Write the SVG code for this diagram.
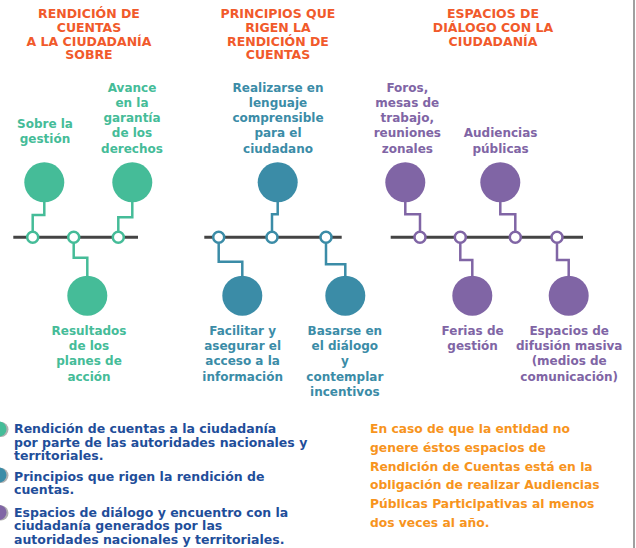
<svg xmlns="http://www.w3.org/2000/svg" width="636" height="548" viewBox="0 0 636 548">
<style>
text{font-family:"DejaVu Sans","Liberation Sans",sans-serif;font-weight:bold;}
.t{font-size:12.5px;fill:#F15A2B;text-anchor:middle;}
.l{font-size:12px;text-anchor:middle;}
.g{fill:#45BC98;}
.b{fill:#3B8CA7;}
.p{fill:#8065A5;}
.ln{fill:none;stroke-width:2.5;}
.gs{stroke:#45BC98;}
.bs{stroke:#3B8CA7;}
.ps{stroke:#8065A5;}
.dot{fill:#fff;stroke-width:2.5;}
.axis{stroke:#444;stroke-width:3;}
.leg{font-size:12.5px;fill:#1F4E9A;}
.note{font-size:12.3px;fill:#F7941D;}
</style>
<rect width="636" height="548" fill="#fff"/>
<line x1="634" y1="0" x2="634" y2="548" stroke="#A0A0A0" stroke-width="2"/>

<g id="titles">
<text class="t" x="89" y="18.3">RENDICIÓN DE</text>
<text class="t" x="89" y="31.8">CUENTAS</text>
<text class="t" x="89" y="45.5">A LA CIUDADANÍA</text>
<text class="t" x="89" y="59.2">SOBRE</text>
<text class="t" x="278" y="18.3">PRINCIPIOS QUE</text>
<text class="t" x="278" y="31.8">RIGEN LA</text>
<text class="t" x="278" y="45.5">RENDICIÓN DE</text>
<text class="t" x="278" y="59.2">CUENTAS</text>
<text class="t" x="493" y="18.3">ESPACIOS DE</text>
<text class="t" x="493" y="31.8">DIÁLOGO CON LA</text>
<text class="t" x="493" y="45.5">CIUDADANÍA</text>
</g>

<g id="axes">
<line class="axis" x1="13.3" y1="237.3" x2="138" y2="237.3"/>
<line class="axis" x1="204.3" y1="237.3" x2="341.7" y2="237.3"/>
<line class="axis" x1="390.7" y1="237.3" x2="583" y2="237.3"/>
</g>

<g id="connectors">
<polyline class="ln gs" points="44.3,202 44.3,215 32.7,215 32.7,237"/>
<polyline class="ln gs" points="132.3,202 132.3,217.3 118.3,217.3 118.3,237"/>
<polyline class="ln gs" points="73.7,237 73.7,257.7 87.3,257.7 87.3,276"/>
<polyline class="ln bs" points="277.7,202 277.7,214.3 272,214.3 272,237"/>
<polyline class="ln bs" points="218.7,237 218.7,261.7 242.3,261.7 242.3,276"/>
<polyline class="ln bs" points="326,237 326,264.3 345.3,264.3 345.3,276"/>
<polyline class="ln ps" points="405.3,202 405.3,214.3 420,214.3 420,237"/>
<polyline class="ln ps" points="500.3,202 500.3,214.3 515.3,214.3 515.3,237"/>
<polyline class="ln ps" points="460.3,237 460.3,260 472.3,260 472.3,276"/>
<polyline class="ln ps" points="557,237 557,260 568.7,260 568.7,276"/>
<circle class="dot gs" cx="32.7" cy="237.3" r="5.5"/>
<circle class="dot gs" cx="73.7" cy="237.3" r="5.5"/>
<circle class="dot gs" cx="118.3" cy="237.3" r="5.5"/>
<circle class="dot bs" cx="218.7" cy="237.3" r="5.5"/>
<circle class="dot bs" cx="272" cy="237.3" r="5.5"/>
<circle class="dot bs" cx="326" cy="237.3" r="5.5"/>
<circle class="dot ps" cx="420" cy="237.3" r="5.5"/>
<circle class="dot ps" cx="460.3" cy="237.3" r="5.5"/>
<circle class="dot ps" cx="515.3" cy="237.3" r="5.5"/>
<circle class="dot ps" cx="557" cy="237.3" r="5.5"/>
</g>

<g id="n-gestion">
<circle class="g" cx="44.3" cy="182.3" r="20"/>
<text class="l g" x="45" y="128.3">Sobre la</text>
<text class="l g" x="45" y="142.7">gestión</text>
</g>
<g id="n-derechos">
<circle class="g" cx="132.3" cy="182.3" r="20"/>
<text class="l g" x="132" y="91.8">Avance</text>
<text class="l g" x="132" y="107">en la</text>
<text class="l g" x="132" y="122.2">garantía</text>
<text class="l g" x="132" y="137.4">de los</text>
<text class="l g" x="132" y="152.6">derechos</text>
</g>
<g id="n-resultados">
<circle class="g" cx="87.3" cy="295.7" r="20"/>
<text class="l g" x="89" y="335">Resultados</text>
<text class="l g" x="89" y="350.2">de los</text>
<text class="l g" x="89" y="365.4">planes de</text>
<text class="l g" x="89" y="380.6">acción</text>
</g>

<g id="n-lenguaje">
<circle class="b" cx="277.7" cy="182.3" r="20"/>
<text class="l b" x="278" y="91.8">Realizarse en</text>
<text class="l b" x="278" y="107">lenguaje</text>
<text class="l b" x="278" y="122.2">comprensible</text>
<text class="l b" x="278" y="137.4">para el</text>
<text class="l b" x="278" y="152.6">ciudadano</text>
</g>
<g id="n-acceso">
<circle class="b" cx="242.3" cy="295.7" r="20"/>
<text class="l b" x="242.6" y="335">Facilitar y</text>
<text class="l b" x="242.6" y="350.2">asegurar el</text>
<text class="l b" x="242.6" y="365.4">acceso a la</text>
<text class="l b" x="242.6" y="380.6">información</text>
</g>
<g id="n-dialogo">
<circle class="b" cx="345.3" cy="295.7" r="20"/>
<text class="l b" x="344.8" y="335">Basarse en</text>
<text class="l b" x="344.8" y="350.2">el diálogo</text>
<text class="l b" x="344.8" y="365.4">y</text>
<text class="l b" x="344.8" y="380.6">contemplar</text>
<text class="l b" x="344.8" y="395.8">incentivos</text>
</g>

<g id="n-foros">
<circle class="p" cx="405.3" cy="182.3" r="20"/>
<text class="l p" x="407.3" y="91.8">Foros,</text>
<text class="l p" x="407.3" y="107">mesas de</text>
<text class="l p" x="407.3" y="122.2">trabajo,</text>
<text class="l p" x="407.3" y="137.4">reuniones</text>
<text class="l p" x="407.3" y="152.6">zonales</text>
</g>
<g id="n-audiencias">
<circle class="p" cx="500.3" cy="182.3" r="20"/>
<text class="l p" x="500.6" y="137.4">Audiencias</text>
<text class="l p" x="500.6" y="152.6">públicas</text>
</g>
<g id="n-ferias">
<circle class="p" cx="472.3" cy="295.7" r="20"/>
<text class="l p" x="472.6" y="335">Ferias de</text>
<text class="l p" x="472.6" y="350.2">gestión</text>
</g>
<g id="n-difusion">
<circle class="p" cx="568.7" cy="295.7" r="20"/>
<text class="l p" x="569.2" y="335">Espacios de</text>
<text class="l p" x="569.2" y="350.2">difusión masiva</text>
<text class="l p" x="569.2" y="365.4">(medios de</text>
<text class="l p" x="569.2" y="380.6">comunicación)</text>
</g>

<g id="legend">
<circle cx="1" cy="429.5" r="7.5" fill="#B0B0B0"/>
<circle cx="-1" cy="429" r="7.5" class="g"/>
<circle cx="1" cy="475.5" r="7.5" fill="#B0B0B0"/>
<circle cx="-1" cy="475" r="7.5" class="b"/>
<circle cx="1" cy="513" r="7.5" fill="#B0B0B0"/>
<circle cx="-1" cy="512.5" r="7.5" class="p"/>
<text class="leg" x="14" y="433.3">Rendición de cuentas a la ciudadanía</text>
<text class="leg" x="14" y="446.8">por parte de las autoridades nacionales y</text>
<text class="leg" x="14" y="460.3">territoriales.</text>
<text class="leg" x="14" y="480.7">Principios que rigen la rendición de</text>
<text class="leg" x="14" y="494.2">cuentas.</text>
<text class="leg" x="14" y="516.7">Espacios de diálogo y encuentro con la</text>
<text class="leg" x="14" y="530.2">ciudadanía generados por las</text>
<text class="leg" x="14" y="543.7">autoridades nacionales y territoriales.</text>
</g>

<g id="note">
<text class="note" x="370" y="433.3">En caso de que la entidad no</text>
<text class="note" x="370" y="452">genere éstos espacios de</text>
<text class="note" x="370" y="470.7">Rendición de Cuentas está en la</text>
<text class="note" x="370" y="489.4">obligación de realizar Audiencias</text>
<text class="note" x="370" y="508.1">Públicas Participativas al menos</text>
<text class="note" x="370" y="526.8">dos veces al año.</text>
</g>
</svg>
